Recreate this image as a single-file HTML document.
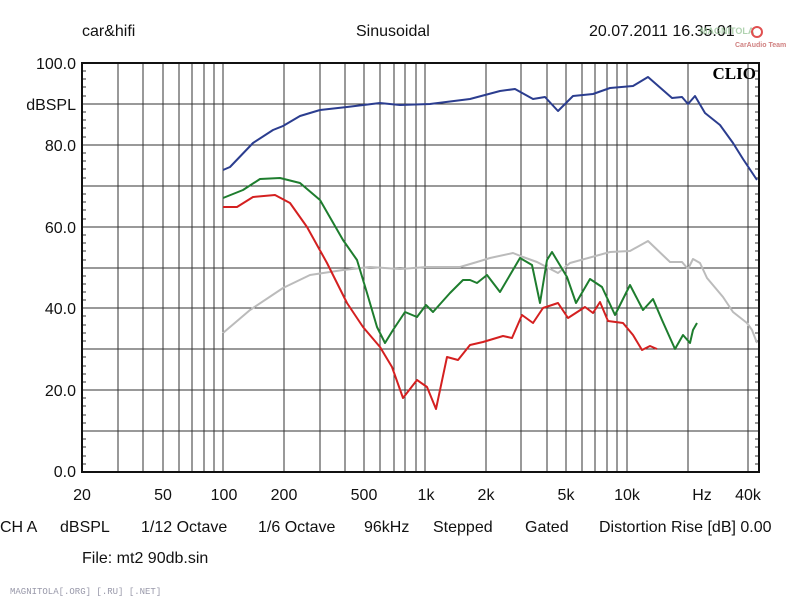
<!DOCTYPE html>
<html><head><meta charset="utf-8"><style>
body{margin:0;background:#fff;}
svg{display:block;font-family:"Liberation Sans",sans-serif;}
</style></head><body>
<svg width="800" height="600" viewBox="0 0 800 600" xmlns="http://www.w3.org/2000/svg">
<rect width="800" height="600" fill="#fff"/>
<g font-size="16" fill="#111">
<text x="82" y="36">car&amp;hifi</text>
<text x="356" y="36">Sinusoidal</text>
<text x="589" y="36">20.07.2011 16.35.01</text>
</g>
<g font-size="9" font-weight="bold" fill="#8fc08f" opacity="0.7"><text x="700" y="34">MAGNITOLA</text></g>
<text x="735" y="47" font-size="7" font-weight="bold" fill="#d08080">CarAudio Team</text>
<circle cx="757" cy="32" r="5" fill="none" stroke="#e05050" stroke-width="2"/>
<g id="grid" stroke="#333" stroke-width="1">
<line x1="82" y1="104" x2="759" y2="104"/><line x1="82" y1="145" x2="759" y2="145"/>
<line x1="82" y1="186" x2="759" y2="186"/><line x1="82" y1="227" x2="759" y2="227"/>
<line x1="82" y1="268" x2="759" y2="268"/><line x1="82" y1="308" x2="759" y2="308"/>
<line x1="82" y1="349" x2="759" y2="349"/><line x1="82" y1="390" x2="759" y2="390"/>
<line x1="82" y1="431" x2="759" y2="431"/>
<line x1="118" y1="63" x2="118" y2="472"/><line x1="143" y1="63" x2="143" y2="472"/>
<line x1="163" y1="63" x2="163" y2="472"/><line x1="179" y1="63" x2="179" y2="472"/>
<line x1="192" y1="63" x2="192" y2="472"/><line x1="204" y1="63" x2="204" y2="472"/>
<line x1="214" y1="63" x2="214" y2="472"/><line x1="223" y1="63" x2="223" y2="472"/>
<line x1="284" y1="63" x2="284" y2="472"/><line x1="320" y1="63" x2="320" y2="472"/>
<line x1="345" y1="63" x2="345" y2="472"/><line x1="364" y1="63" x2="364" y2="472"/>
<line x1="380" y1="63" x2="380" y2="472"/><line x1="394" y1="63" x2="394" y2="472"/>
<line x1="405" y1="63" x2="405" y2="472"/><line x1="416" y1="63" x2="416" y2="472"/>
<line x1="425" y1="63" x2="425" y2="472"/><line x1="486" y1="63" x2="486" y2="472"/>
<line x1="521" y1="63" x2="521" y2="472"/><line x1="547" y1="63" x2="547" y2="472"/>
<line x1="566" y1="63" x2="566" y2="472"/><line x1="582" y1="63" x2="582" y2="472"/>
<line x1="595" y1="63" x2="595" y2="472"/><line x1="607" y1="63" x2="607" y2="472"/>
<line x1="617" y1="63" x2="617" y2="472"/><line x1="627" y1="63" x2="627" y2="472"/>
<line x1="688" y1="63" x2="688" y2="472"/><line x1="748" y1="63" x2="748" y2="472"/>
</g>
<g stroke="#333" stroke-width="1" id="ticks">
<path d="M82 71h4M82 79h4M82 87h4M82 96h4M82 112h4M82 120h4M82 128h4M82 137h4M82 153h4M82 161h4M82 169h4M82 178h4M82 194h4M82 202h4M82 210h4M82 219h4M82 235h4M82 243h4M82 251h4M82 260h4M82 276h4M82 284h4M82 292h4M82 300h4M82 316h4M82 325h4M82 333h4M82 341h4M82 357h4M82 366h4M82 374h4M82 382h4M82 398h4M82 406h4M82 415h4M82 423h4M82 439h4M82 447h4M82 456h4M82 464h4"/>
<path d="M759 71h-4M759 79h-4M759 87h-4M759 96h-4M759 112h-4M759 120h-4M759 128h-4M759 137h-4M759 153h-4M759 161h-4M759 169h-4M759 178h-4M759 194h-4M759 202h-4M759 210h-4M759 219h-4M759 235h-4M759 243h-4M759 251h-4M759 260h-4M759 276h-4M759 284h-4M759 292h-4M759 300h-4M759 316h-4M759 325h-4M759 333h-4M759 341h-4M759 357h-4M759 366h-4M759 374h-4M759 382h-4M759 398h-4M759 406h-4M759 415h-4M759 423h-4M759 439h-4M759 447h-4M759 456h-4M759 464h-4"/>
</g>
<rect x="82" y="63" width="677" height="409" fill="none" stroke="#111" stroke-width="2"/>
<text x="756" y="79" text-anchor="end" font-family="Liberation Serif,serif" font-weight="bold" font-size="17" fill="#000">CLIO</text>
<g fill="none" stroke-width="2" stroke-linejoin="round">
<polyline stroke="#bbbbbb" points="223,333 250,310 283,288 310,275 343,270 370,267 400,269 427,267 460,267 477,262 490,258 513,253 523,257 537,262 558,273 570,263 610,252 630,251 648,241 670,262 682,262 688,269 693,259 700,263 707,278 723,297 733,312 747,323 752,330 757,343"/>
<polyline stroke="#2b3d8f" points="223,170 230,167 253,143 273,130 283,126 300,116 320,110 347,107 380,103 400,105 430,104 470,99 500,91 515,89 533,99 545,97 558,111 573,96 593,94 610,88 633,86 648,77 672,98 682,97 688,104 695,96 705,113 720,125 733,143 743,159 757,180"/>
<polyline stroke="#1e7d2e" points="223,198 243,190 260,179 280,178 300,183 320,200 343,240 357,260 367,293 377,327 385,343 393,330 405,312 417,317 426,305 433,312 450,293 463,280 470,280 477,283 487,275 500,292 520,258 532,265 540,303 547,260 552,252 567,277 576,303 590,279 602,287 615,315 630,285 643,310 653,299 662,320 675,349 683,335 690,343 693,330 697,323"/>
<polyline stroke="#d42020" points="223,207 237,207 253,197 275,195 290,203 307,227 327,263 347,303 363,327 380,347 392,367 403,398 417,380 427,387 436,409 447,357 458,360 470,345 483,342 503,336 512,338 522,315 533,323 543,308 558,303 568,318 585,307 593,313 600,302 608,321 623,323 633,335 642,350 650,346 657,349"/>
</g>
<g font-size="16" fill="#111" text-anchor="end">
<text x="76" y="69">100.0</text><text x="76" y="110">dBSPL</text>
<text x="76" y="151">80.0</text><text x="76" y="233">60.0</text>
<text x="76" y="314">40.0</text><text x="76" y="396">20.0</text>
<text x="76" y="477">0.0</text>
</g>
<g font-size="16" fill="#111" text-anchor="middle">
<text x="82" y="500">20</text><text x="163" y="500">50</text><text x="224" y="500">100</text>
<text x="284" y="500">200</text><text x="364" y="500">500</text><text x="426" y="500">1k</text>
<text x="486" y="500">2k</text><text x="566" y="500">5k</text><text x="627" y="500">10k</text>
<text x="702" y="500">Hz</text><text x="748" y="500">40k</text>
</g>
<g font-size="16" fill="#111">
<text x="0" y="532">CH A</text><text x="60" y="532">dBSPL</text>
<text x="141" y="532">1/12 Octave</text><text x="258" y="532">1/6 Octave</text>
<text x="364" y="532">96kHz</text><text x="433" y="532">Stepped</text>
<text x="525" y="532">Gated</text><text x="599" y="532">Distortion Rise [dB] 0.00</text>
<text x="82" y="563">File: mt2 90db.sin</text>
</g>
<text x="10" y="594" font-family="Liberation Mono,monospace" font-size="9" fill="#99a">MAGNITOLA[.ORG] [.RU] [.NET]</text>
</svg>
</body></html>
